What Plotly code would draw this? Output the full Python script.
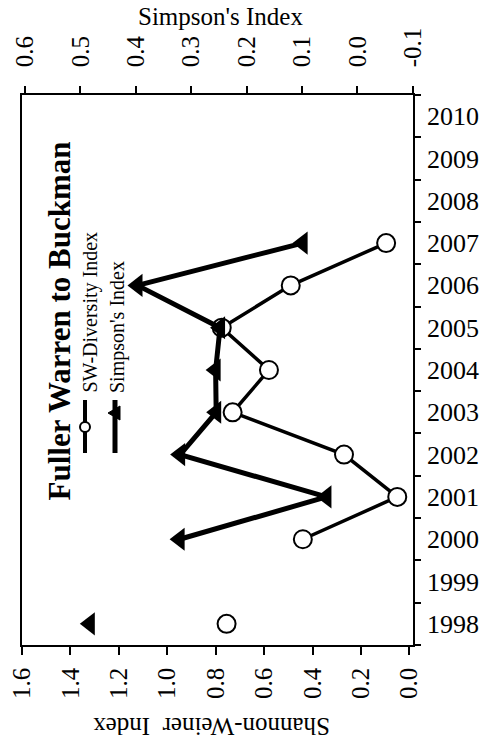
import plotly.graph_objects as go

years = [str(y) for y in range(1998, 2011)]
sw_index = [0.755, None, 0.44, 0.05, 0.27, 0.73, 0.58, 0.775, 0.49, 0.096, None, None, None]
simpson_index = [0.483, None, 0.321, 0.056, 0.32, 0.255, 0.256, 0.248, 0.397, 0.099, None, None, None]
sw_ticks = [1.6, 1.4, 1.2, 1.0, 0.8, 0.6, 0.4, 0.2, 0.0]
simpson_ticks = [0.6, 0.5, 0.4, 0.3, 0.2, 0.1, 0.0, -0.1]

FONT = "Liberation Serif"
L, R, T, B = 22, 413, 95, 645  # plot area in page pixels
W, H = 485, 746

def px(x):
    return (x - L) / (R - L)

def py(y):
    return (B - y) / (B - T)

fig = go.Figure()
fig.add_trace(go.Scatter(
    x=sw_index, y=years, xaxis="x", yaxis="y", mode="lines+markers",
    line=dict(color="black", width=3.5),
    marker=dict(symbol="circle", size=18, color="white", line=dict(color="black", width=2)),
    connectgaps=False, name="SW-Diversity Index", showlegend=False))
fig.add_trace(go.Scatter(
    x=simpson_index, y=years, xaxis="x2", yaxis="y", mode="lines+markers",
    line=dict(color="black", width=5),
    marker=dict(symbol="triangle-left", size=20, color="black"),
    connectgaps=False, name="Simpson's Index", showlegend=False))

rot_font = dict(family=FONT, size=25, color="black")
year_font = dict(family=FONT, size=26, color="black")
fig.update_layout(
    width=W, height=H,
    margin=dict(l=L, r=W - R, t=T, b=H - B, autoexpand=False),
    paper_bgcolor="white", plot_bgcolor="white", showlegend=False,
    font=dict(family=FONT, color="black"),
    xaxis=dict(range=[1.6, -0.015], tickvals=sw_ticks, ticktext=[f"{v:.1f}" for v in sw_ticks],
               tickangle=-90, ticks="outside", ticklen=8, tickwidth=1.5, tickcolor="black",
               showline=True, linecolor="black", linewidth=1.5, showgrid=False, zeroline=False,
               tickfont=rot_font, automargin=False, ticklabelstandoff=3),
    xaxis2=dict(range=[0.6054, -0.1002], overlaying="x", side="top", tickvals=simpson_ticks,
                ticktext=[f"{v:.1f}" for v in simpson_ticks], tickangle=-90, ticks="outside",
                ticklen=7, tickwidth=1.5, tickcolor="black", showline=True, linecolor="black",
                linewidth=1.5, showgrid=False, zeroline=False, tickfont=rot_font, automargin=False,
                ticklabelstandoff=14),
    yaxis=dict(type="category", categoryorder="array", categoryarray=years, side="right",
               tickson="boundaries", ticks="outside", ticklen=6, tickwidth=1.5, tickcolor="black",
               showline=True, linecolor="black", linewidth=1.5, mirror=True, showgrid=False,
               zeroline=False, tickfont=year_font, range=[-0.5, 12.5], automargin=False,
               ticklabelstandoff=7),
)

annotations = [
    dict(text="Simpson's Index", x=px(220), y=py(17), xref="paper", yref="paper",
         xanchor="center", yanchor="middle",
         showarrow=False, font=dict(family=FONT, size=25, color="black")),
    dict(text="Shannon-Weiner  Index", x=px(211.5), y=py(727), xref="paper", yref="paper",
         xanchor="center", yanchor="middle",
         showarrow=False, textangle=180, font=dict(family=FONT, size=25, color="black")),
    dict(text="<b>Fuller Warren to Buckman</b>", x=px(59), y=py(503), xref="paper", yref="paper",
         xanchor="center", yanchor="bottom", showarrow=False, textangle=-90,
         font=dict(family=FONT, size=31, color="black")),
    dict(text="SW-Diversity Index", x=px(90), y=py(395), xref="paper", yref="paper",
         xanchor="center", yanchor="bottom", showarrow=False, textangle=-90,
         font=dict(family=FONT, size=20, color="black")),
    dict(text="Simpson's Index", x=px(117), y=py(395), xref="paper", yref="paper",
         xanchor="center", yanchor="bottom", showarrow=False, textangle=-90,
         font=dict(family=FONT, size=20, color="black")),
]
fig.update_layout(annotations=annotations)

shapes = [
    dict(type="line", xref="paper", yref="paper", x0=px(85), x1=px(85), y0=py(400), y1=py(453),
         line=dict(color="black", width=4)),
    dict(type="circle", xref="paper", yref="paper", x0=px(80), x1=px(90), y0=py(432), y1=py(422),
         line=dict(color="black", width=2), fillcolor="white"),
    dict(type="line", xref="paper", yref="paper", x0=px(115), x1=px(115), y0=py(400), y1=py(453),
         line=dict(color="black", width=5)),
    dict(type="path", xref="paper", yref="paper",
         path=f"M {px(108)} {py(413)} L {px(120)} {py(406)} L {px(120)} {py(420)} Z",
         fillcolor="black", line=dict(color="black", width=1)),
]
fig.update_layout(shapes=shapes)

fig.write_html("out.html", config={"displayModeBar": False},
               post_script="document.body.style.margin='0';document.body.style.padding='0';"
                           "document.body.style.overflow='hidden';")
